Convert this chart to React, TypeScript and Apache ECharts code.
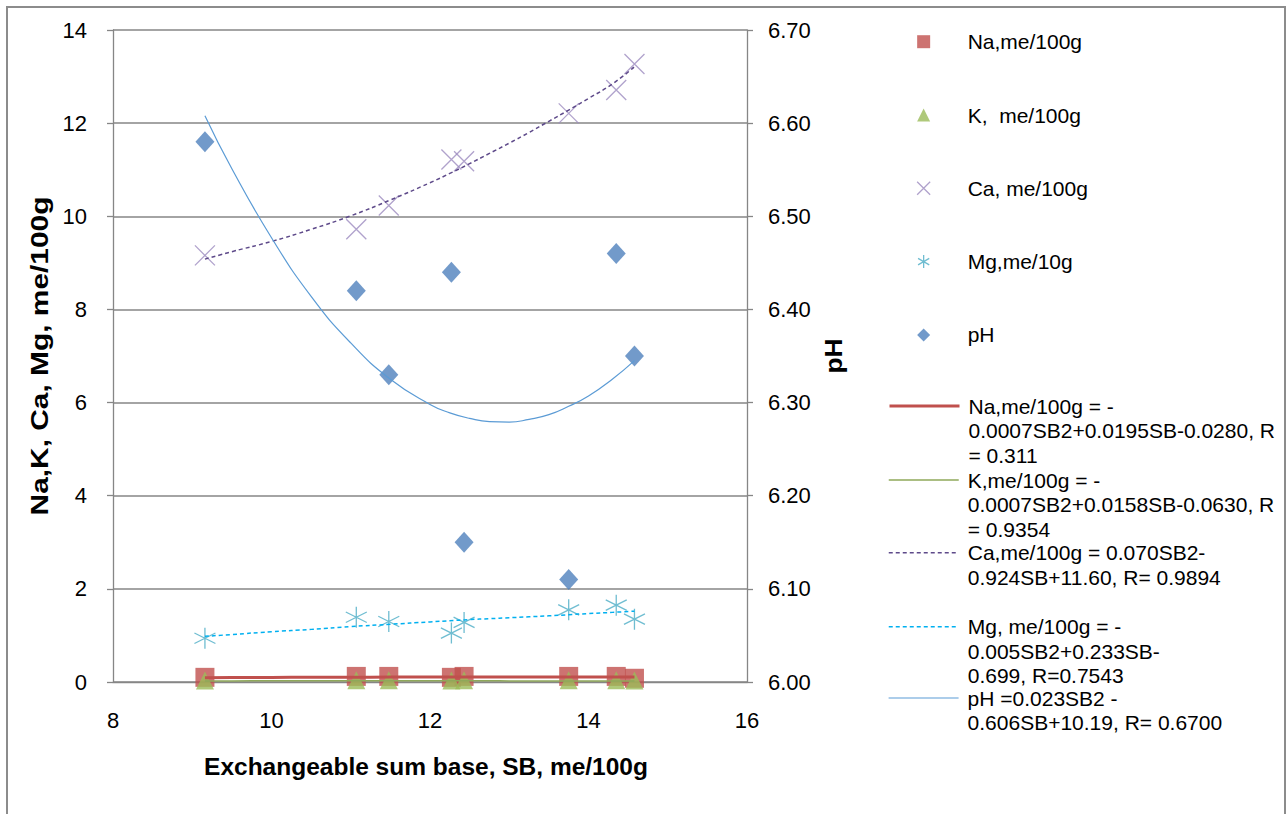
import React, { useEffect, useRef } from "react";
import * as echarts from "echarts";

// ---- data ----
const SB = [9.16, 11.07, 11.48, 12.27, 12.43, 13.75, 14.35, 14.58];
const NA = [0.1, 0.12, 0.12, 0.1, 0.12, 0.12, 0.12, 0.08];
const K = [0.03, 0.04, 0.04, 0.03, 0.04, 0.04, 0.04, 0.03];
const CA = [9.16, 9.72, 10.23, 11.22, 11.18, 12.21, 12.71, 13.27];
const MG = [0.94, 1.39, 1.3, 1.05, 1.28, 1.55, 1.65, 1.35];
const PH = [6.58, 6.42, 6.33, 6.44, 6.15, 6.11, 6.46, 6.35];

// trendline points
const TREND_SB = [9.16, 9.5, 10, 10.5, 11, 11.5, 12, 12.25, 12.5, 12.75, 13, 13.25, 13.5, 13.75, 14, 14.3, 14.58];
const NA_TREND = [0.092, 0.095, 0.098, 0.101, 0.103, 0.105, 0.106, 0.106, 0.107, 0.107, 0.108, 0.108, 0.108, 0.108, 0.108, 0.108, 0.107];
const K_TREND = [0.023, 0.024, 0.025, 0.025, 0.026, 0.026, 0.026, 0.026, 0.025, 0.025, 0.024, 0.024, 0.023, 0.022, 0.021, 0.02, 0.019];
const CA_TREND = [9.08, 9.24, 9.46, 9.72, 10.01, 10.35, 10.72, 10.92, 11.13, 11.35, 11.57, 11.8, 12.04, 12.28, 12.53, 12.84, 13.21];
const MG_TREND = [0.98, 1.02, 1.08, 1.13, 1.19, 1.24, 1.29, 1.315, 1.34, 1.36, 1.38, 1.4, 1.42, 1.445, 1.47, 1.495, 1.52];
const PH_TREND = [6.608, 6.551, 6.477, 6.414, 6.364, 6.325, 6.298, 6.289, 6.283, 6.2795, 6.279, 6.282, 6.287, 6.296, 6.307, 6.325, 6.345];

const MARKER_NAMES = ["Na,me/100g", "K,  me/100g", "Ca, me/100g", "Mg,me/10g", "pH"];
const TREND_NAMES = ["Na trend", "K trend", "Ca trend", "Mg trend", "pH trend"];
const TREND_LABELS = [
  ["Na,me/100g = -", "0.0007SB2+0.0195SB-0.0280, R", "= 0.311"],
  ["K,me/100g = -", "0.0007SB2+0.0158SB-0.0630, R", "= 0.9354"],
  ["Ca,me/100g = 0.070SB2-", "0.924SB+11.60, R= 0.9894"],
  ["Mg, me/100g = -", "0.005SB2+0.233SB-", "0.699, R=0.7543"],
  ["pH =0.023SB2 -", "0.606SB+10.19, R= 0.6700"],
];

const X_TICKS = [8, 10, 12, 14, 16];
const Y_LEFT = { min: 0, max: 14, interval: 2 };
const Y_RIGHT = { min: 6.0, max: 6.7, interval: 0.1 };

const FONT = '"Liberation Sans", Arial, sans-serif';
const X_PATH = "path://M0,0L10,10M10,0L0,10";
const STAR_PATH = "path://M5,0L5,10M0.7,2.5L9.3,7.5M0.7,7.5L9.3,2.5";

const pair = (xs: number[], ys: number[]) => xs.map((x, i) => [x, ys[i]]);

export default function App() {
  const ref = useRef<HTMLDivElement>(null);
  useEffect(() => {
    if (!ref.current) return;
    const chart = echarts.init(ref.current, undefined, { renderer: "svg" });
    const grey = "#868686";
    const lh = 24.5;
    const trendIconY = [406, 480, 552.7, 626.7, 698];

    const trendColors = ["#C0504D", "#8FA85A", "#5E4A8A", "#00B0F0", "#5B9BD5"];
    const trendWidths = [3, 1.5, 1.5, 1.5, 1.2];
    const trendTypes: any[] = ["solid", "solid", [4, 3], [4, 3], "solid"];
    const trendData = [NA_TREND, K_TREND, CA_TREND, MG_TREND, PH_TREND];

    const trendLegends = TREND_NAMES.map((name, i) => {
      const n = TREND_LABELS[i].length;
      const blanks = new Array(n - 1).fill("").join("\n");
      return {
        show: true,
        orient: "vertical",
        left: 888,
        top: trendIconY[i] - (n - 1) * lh - lh / 2,
        padding: 0,
        itemWidth: 70,
        itemHeight: 14,
        selectedMode: false,
        itemStyle: { color: "transparent", borderColor: "transparent", borderWidth: 0, opacity: 0 },
        lineStyle: { color: trendColors[i], width: trendWidths[i], type: trendTypes[i] },
        data: [name],
        formatter: () => blanks + "\n" + TREND_LABELS[i].join("\n"),
        textStyle: {
          fontFamily: FONT,
          fontSize: 21,
          color: "#000",
          lineHeight: lh,
          padding: [0, 0, 0, 4],
        },
      };
    });

    const option: any = {
      animation: false,
      backgroundColor: "#fff",
      grid: { left: 113, right: 540, top: 30, bottom: 132, containLabel: false },
      xAxis: {
        type: "value",
        min: X_TICKS[0],
        max: X_TICKS[X_TICKS.length - 1],
        interval: 2,
        axisLine: { show: true, lineStyle: { color: grey, width: 1.3 } },
        axisTick: { show: false },
        splitLine: { show: false },
        axisLabel: { color: "#000", fontFamily: FONT, fontSize: 22, margin: 27 },
      },
      yAxis: [
        {
          type: "value",
          min: Y_LEFT.min,
          max: Y_LEFT.max,
          interval: Y_LEFT.interval,
          axisLine: { show: true, lineStyle: { color: grey, width: 1.3 } },
          axisTick: { show: true, inside: false, length: 6, lineStyle: { color: grey, width: 1.3 } },
          splitLine: { show: true, lineStyle: { color: grey, width: 1.5 } },
          axisLabel: { color: "#000", fontFamily: FONT, fontSize: 22, margin: 26 },
        },
        {
          type: "value",
          position: "right",
          min: Y_RIGHT.min,
          max: Y_RIGHT.max,
          interval: Y_RIGHT.interval,
          axisLine: { show: true, lineStyle: { color: grey, width: 1.3 } },
          axisTick: { show: true, inside: false, length: 6, lineStyle: { color: grey, width: 1.3 } },
          splitLine: { show: false },
          axisLabel: {
            color: "#000",
            fontFamily: FONT,
            fontSize: 22,
            margin: 21,
            formatter: (v: number) => v.toFixed(2),
          },
        },
      ],
      legend: [
        {
          show: true,
          orient: "vertical",
          left: 916.5,
          top: 29.7,
          padding: 0,
          itemWidth: 13,
          itemHeight: 13,
          itemGap: 49.3,
          selectedMode: false,
          data: [
            { name: MARKER_NAMES[0] },
            { name: MARKER_NAMES[1] },
            { name: MARKER_NAMES[2], itemStyle: { color: "transparent", borderColor: "#9C8BBF", borderWidth: 1.3 } },
            { name: MARKER_NAMES[3], itemStyle: { color: "transparent", borderColor: "#4BACC6", borderWidth: 1.3 } },
            { name: MARKER_NAMES[4] },
          ],
          textStyle: { fontFamily: FONT, fontSize: 21, color: "#000", lineHeight: 24, padding: [0, 0, 0, 32.5] },
        },
        ...trendLegends,
      ],
      graphic: [
        {
          type: "rect",
          shape: { x: 7, y: 7, width: 1278, height: 900 },
          style: { fill: "none", stroke: "#8C8C8C", lineWidth: 2 },
          silent: true,
        },
        {
          type: "text",
          x: 40,
          y: 356,
          rotation: Math.PI / 2,
          scaleX: 1.3,
          style: {
            text: "Na,K, Ca, Mg, me/100g",
            font: `bold 23px ${FONT}`,
            fill: "#000",
            align: "center",
            verticalAlign: "middle",
          },
        },
        {
          type: "text",
          x: 833,
          y: 356,
          rotation: Math.PI / 2,
          scaleX: 1.1,
          style: {
            text: "pH",
            font: `bold 24px ${FONT}`,
            fill: "#000",
            align: "center",
            verticalAlign: "middle",
          },
        },
        {
          type: "text",
          x: 426,
          y: 766,
          style: {
            text: "Exchangeable sum base, SB, me/100g",
            font: `bold 24.5px ${FONT}`,
            fill: "#000",
            align: "center",
            verticalAlign: "middle",
          },
        },
      ],
      series: [
        {
          name: MARKER_NAMES[0],
          type: "scatter",
          symbol: "rect",
          symbolSize: 19,
          itemStyle: { color: "#C0504D" },
          data: pair(SB, NA),
          z: 2,
        },
        {
          name: MARKER_NAMES[1],
          type: "scatter",
          symbol: "triangle",
          symbolSize: 18,
          itemStyle: { color: "#9BBB59" },
          data: pair(SB, K),
          z: 3,
        },
        {
          name: MARKER_NAMES[2],
          type: "scatter",
          symbol: X_PATH,
          symbolSize: 20,
          itemStyle: { color: "transparent", borderColor: "#9C8BBF", borderWidth: 1.3 },
          data: pair(SB, CA),
          z: 3,
        },
        {
          name: MARKER_NAMES[3],
          type: "scatter",
          symbol: STAR_PATH,
          symbolSize: 21,
          itemStyle: { color: "transparent", borderColor: "#4BACC6", borderWidth: 1.3 },
          data: pair(SB, MG),
          z: 3,
        },
        {
          name: MARKER_NAMES[4],
          type: "scatter",
          symbol: "diamond",
          symbolSize: [19, 21],
          yAxisIndex: 1,
          itemStyle: { color: "#4F81BD" },
          data: pair(SB, PH),
          z: 3,
        },
        ...TREND_NAMES.map((name, i) => ({
          name,
          type: "line",
          smooth: true,
          symbol: "none",
          showSymbol: false,
          yAxisIndex: i === 4 ? 1 : 0,
          lineStyle: { color: trendColors[i], width: trendWidths[i], type: trendTypes[i] },
          itemStyle: { color: trendColors[i] },
          data: pair(TREND_SB, trendData[i]),
          z: 4,
        })),
      ],
    };
    chart.setOption(option);
    return () => chart.dispose();
  }, []);
  return (
    <div
      ref={ref}
      style={{ position: "fixed", left: 0, top: 0, width: 1287, height: 814, background: "#fff" }}
    />
  );
}
